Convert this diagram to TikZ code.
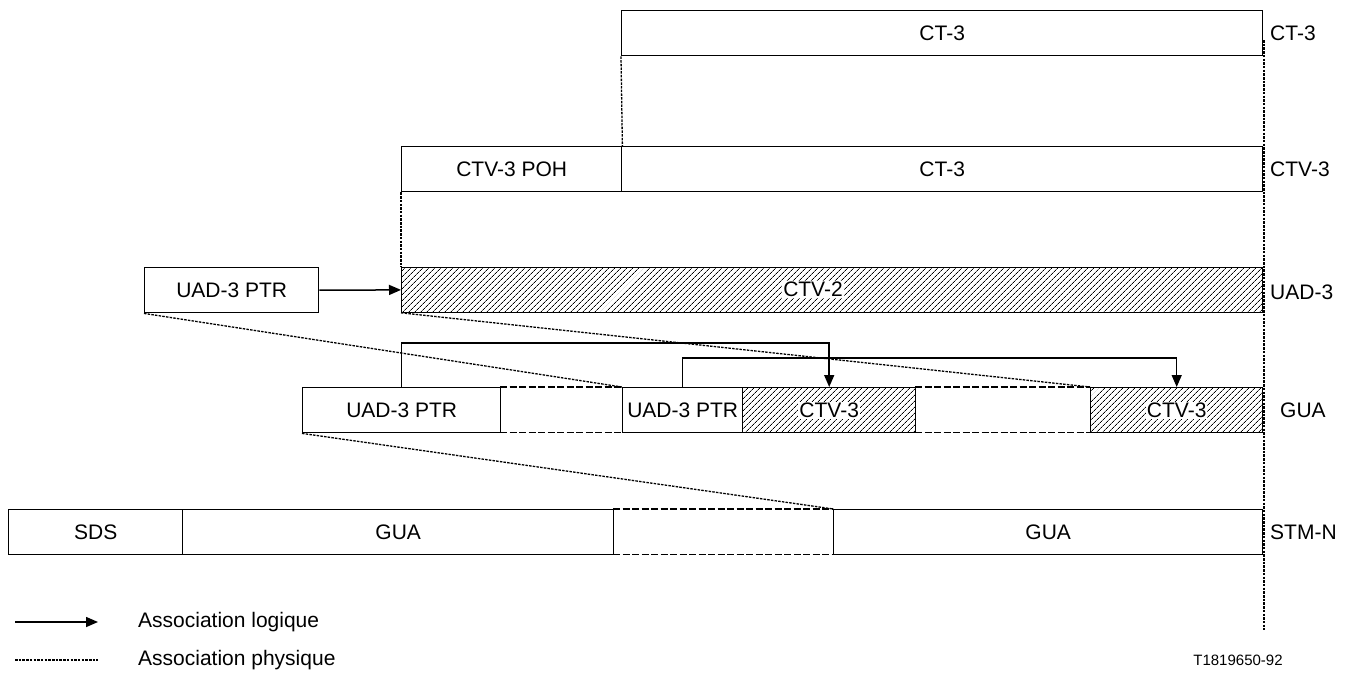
\documentclass[tikz,border=0pt]{standalone}
\usepackage{fontspec}
\setmainfont{Liberation Sans}
\usetikzlibrary{arrows.meta,patterns.meta}
\begin{document}
\begin{tikzpicture}[x=1pt,y=-1pt,
  every node/.style={font=\fontsize{21}{25}\selectfont},
  box/.style={draw,line width=1.4pt,inner sep=0pt,minimum height=45pt,anchor=north west},
  hatchbox/.style={box,pattern={Lines[angle=45,distance=4pt,line width=0.8pt]}},
  gapbox/.style={inner sep=0pt,minimum height=45pt,anchor=north west},
  hatchlab/.style={fill=white,inner sep=1pt},
  sidelab/.style={anchor=west,inner sep=0pt},
  logic/.style={line width=1.5pt,-{Triangle[length=12pt,width=10pt]}},
  phys/.style={line width=1.3pt,dash pattern=on 2.5pt off 1.2pt},
  gapline/.style={line width=1.8pt,dash pattern=on 7pt off 2.5pt}]
\useasboundingbox (0,0) rectangle (1360,678);
% CT-3 row
\node[box,minimum width=641pt] (ct3top) at (621,10) {CT-3};
\node[sidelab] (lct3) at (1270,33) {CT-3};
% CTV-3 row
\node[box,minimum width=220pt] (ctvpoh) at (401,146) {CTV-3 POH};
\node[box,minimum width=641pt] (ctvct3) at (621,146) {CT-3};
\node[sidelab] (lctv3) at (1270,169) {CTV-3};
% UAD-3 row
\node[box,minimum width=174pt] (uadptr) at (144,267) {UAD-3 PTR};
\node[hatchbox,minimum width=861pt] (ctv2) at (401,267) {};
\node[hatchlab] (ctv2lab) at (813,289.5) {CTV-2};
\node[sidelab] (luad3) at (1270,292) {UAD-3};
% GUA row
\node[box,minimum width=198pt] (guaptr) at (302,387) {UAD-3 PTR};
\node[gapbox,minimum width=122pt] (guagap1) at (500,387) {};
\node[box,minimum width=120pt] (guaptr2) at (622,387) {UAD-3 PTR};
\node[hatchbox,minimum width=173pt] (guactv1) at (742,387) {};
\node[hatchlab] (guactv1lab) at (guactv1.center) {CTV-3};
\node[gapbox,minimum width=175pt] (guagap2) at (915,387) {};
\node[hatchbox,minimum width=172pt] (guactv2) at (1090,387) {};
\node[hatchlab] (guactv2lab) at (guactv2.center) {CTV-3};
\node[sidelab] (lgua) at (1280,410) {GUA};
% STM-N row
\node[box,minimum width=174pt] (sds) at (8,509) {SDS};
\node[box,minimum width=431pt] (gua1) at (182,509) {GUA};
\node[gapbox,minimum width=220pt] (stmgap) at (613,509) {};
\node[box,minimum width=429pt] (gua2) at (833,509) {GUA};
\node[sidelab] (lstm) at (1270,532) {STM-N};
% dashed gap edges
\foreach \g in {guagap1,guagap2,stmgap}{
  \draw[gapline] (\g.north west) -- (\g.north east) (\g.south west) -- (\g.south east);
}
% logical associations
\draw[logic] (uadptr.east) -- (ctv2.west);
\draw[logic] (guaptr.north) -- ++(0,-44) -| (guactv1.north);
\draw[logic] (guaptr2.north) -- ++(0,-29) -| (guactv2.north);
% physical associations
\draw[phys] (ct3top.south west) -- (ctvpoh.north east);
\draw[phys] (ctvpoh.south west) -- (ctv2.north west);
\draw[phys] (uadptr.south west) -- (guaptr2.north west);
\draw[phys] (ctv2.south west) -- (guactv2.north west);
\draw[phys] (guaptr.south west) -- (stmgap.north east);
\coordinate (rtop) at (1264,40);
\coordinate (rbot) at (1264,630);
\draw[phys] (rtop) -- (rbot);
% legend
\coordinate (la1) at (15,622);
\coordinate (la2) at (98,622);
\draw[logic] (la1) -- (la2);
\node[sidelab] (tlog) at (138,622) {Association logique};
\coordinate (lp1) at (15,660);
\coordinate (lp2) at (98,660);
\draw[phys] (lp1) -- (lp2);
\node[sidelab] (tphys) at (138,660) {Association physique};
\node[inner sep=0pt,font=\fontsize{15}{18}\selectfont] (fig) at (1238,660) {T1819650-92};
\end{tikzpicture}
\end{document}
